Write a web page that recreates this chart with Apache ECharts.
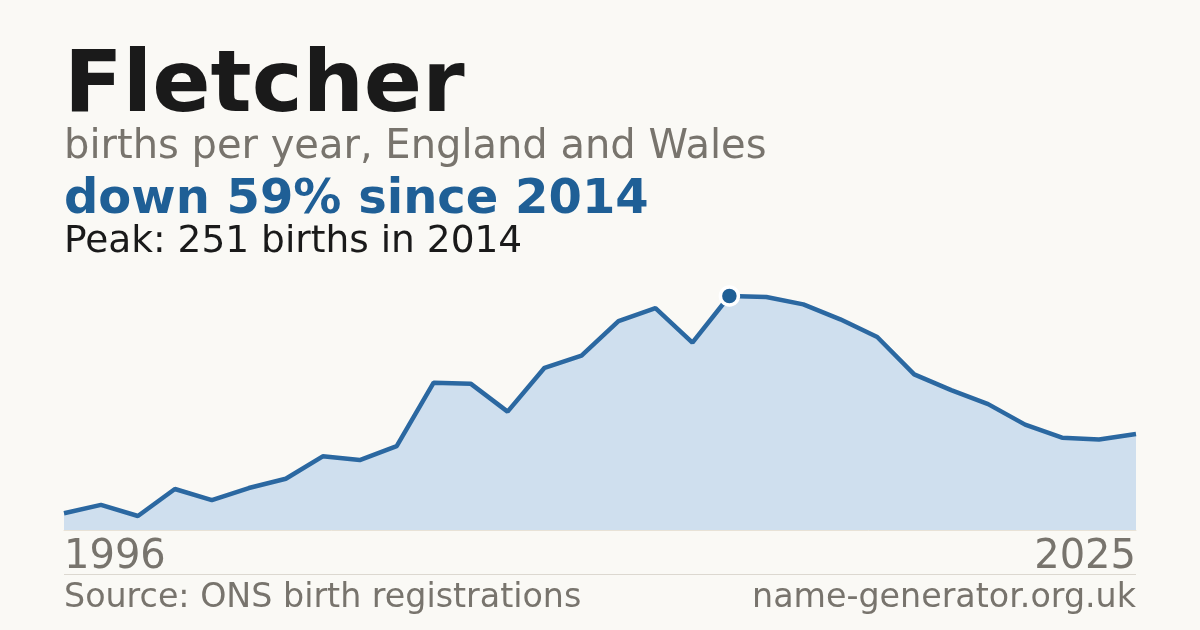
<!DOCTYPE html>
<html>
<head>
<meta charset="utf-8">
<script src="https://cdn.jsdelivr.net/npm/echarts@6/dist/echarts.min.js"></script>
<style>
  html, body { margin: 0; padding: 0; background: #faf9f5; }
  #main { width: 1200px; height: 630px; }
</style>
</head>
<body>
<div id="main"></div>
<script>
// births per year, 1996-2025
var years = ["1996", "1997", "1998", "1999", "2000", "2001", "2002", "2003", "2004", "2005",
  "2006", "2007", "2008", "2009", "2010", "2011", "2012", "2013", "2014", "2015",
  "2016", "2017", "2018", "2019", "2020", "2021", "2022", "2023", "2024", "2025"];
var births = [18, 27, 15, 44, 32, 45, 55, 79, 75, 90,
  158, 157, 127, 174, 187, 224, 238, 201, 251, 250,
  242, 226, 207, 167, 150, 135, 113, 99, 97, 103];
var peakYear = "2014";

var font = "'DejaVu Sans'";
var gray = "#78746d";
var blue = "#1f5f96";

var myChart = echarts.init(document.getElementById("main"));

var seriesData = births.map(function (v, i) {
  if (years[i] === peakYear) {
    return {
      value: v,
      symbol: "circle",
      symbolSize: 18,
      itemStyle: { color: blue, borderColor: "#ffffff", borderWidth: 3.5 }
    };
  }
  return v;
});

var option = {
  backgroundColor: "#faf9f5",
  animation: false,
  grid: { left: 64, right: 64, top: 296, bottom: 100 },
  xAxis: {
    type: "category",
    data: years,
    boundaryGap: false,
    axisLine: { show: true, lineStyle: { color: "#e8e2d6", width: 1 } },
    axisTick: { show: false },
    axisLabel: {
      interval: function (i) { return i === 0 || i === years.length - 1; },
      alignMinLabel: "left",
      alignMaxLabel: "right",
      color: gray,
      fontFamily: "DejaVu Sans",
      fontSize: 40,
      margin: 8
    }
  },
  yAxis: {
    type: "value",
    min: 0,
    max: "dataMax",
    show: false,
    splitLine: { show: false }
  },
  series: [
    {
      type: "line",
      data: seriesData,
      showSymbol: true,
      symbol: "none",
      lineStyle: { color: "#2b68a1", width: 4.5 },
      areaStyle: { color: "#cfdfee", opacity: 1 },
      silent: true
    }
  ],
  graphic: [
    { type: "text", left: 64, top: 46, style: { text: "Fletcher", font: "bold 86px " + font, fill: "#1a1a1a" } },
    { type: "text", left: 64, top: 128, style: { text: "births per year, England and Wales", font: "40px " + font, fill: gray } },
    { type: "text", left: 64, top: 177, style: { text: "down 59% since 2014", font: "bold 48px " + font, fill: blue } },
    { type: "text", left: 64, top: 223, style: { text: "Peak: 251 births in 2014", font: "37.5px " + font, fill: "#1a1a1a" } },
    { type: "line", shape: { x1: 64, y1: 574.5, x2: 1136, y2: 574.5 }, style: { stroke: "#dcd8d0", lineWidth: 1 } },
    { type: "text", left: 64, top: 582, style: { text: "Source: ONS birth registrations", font: "33.3px " + font, fill: gray } },
    { type: "text", right: 64, top: 582, style: { text: "name-generator.org.uk", font: "33.3px " + font, fill: gray } }
  ]
};

myChart.setOption(option);
</script>
</body>
</html>
